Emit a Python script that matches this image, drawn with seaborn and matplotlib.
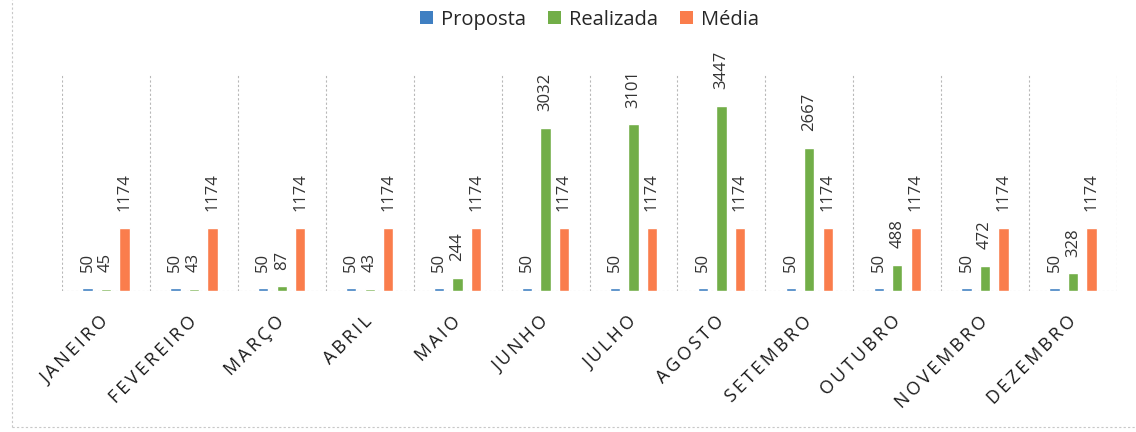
import matplotlib.pyplot as plt
import pandas as pd
import seaborn as sns
from matplotlib.lines import Line2D
from matplotlib.patches import Patch

# dados do gráfico
meses = ['JANEIRO', 'FEVEREIRO', 'MARÇO', 'ABRIL', 'MAIO', 'JUNHO',
         'JULHO', 'AGOSTO', 'SETEMBRO', 'OUTUBRO', 'NOVEMBRO', 'DEZEMBRO']
series = ['Proposta', 'Realizada', 'Média']
proposta = [50, 50, 50, 50, 50, 50, 50, 50, 50, 50, 50, 50]
realizada = [45, 43, 87, 43, 244, 3032, 3101, 3447, 2667, 488, 472, 328]
media = [1174, 1174, 1174, 1174, 1174, 1174, 1174, 1174, 1174, 1174, 1174, 1174]

df = pd.DataFrame({
    'mes': meses * 3,
    'serie': [s for s in series for _ in meses],
    'valor': proposta + realizada + media,
})

sns.set_theme(style='white')
plt.rcParams['font.family'] = ['Open Sans', 'DejaVu Sans']

fig = plt.figure(figsize=(11.36, 4.32), dpi=100)
ax = fig.add_axes([62 / 1136, 1 - 291 / 432, (1117 - 62) / 1136, (291 - 75) / 432])

palette = {'Proposta': '#3F7FC2', 'Realizada': '#72AE48', 'Média': '#FA7D4C'}

sns.barplot(data=df, x='mes', y='valor', hue='serie', order=meses,
            hue_order=series, palette=palette, width=0.63, gap=0.44,
            saturation=1, legend=False, ax=ax)

# rótulos de valor verticais
for cont in ax.containers:
    ax.bar_label(cont, rotation=90, padding=12, fontsize=12, color='#333333')

ax.set_ylim(0, 4015)
ax.set_xlim(-0.5, len(meses) - 0.5)
ax.set_yticks([])
ax.set_xlabel('')
ax.set_ylabel('')
for s in ax.spines.values():
    s.set_visible(False)

# linhas verticais entre categorias
for i in range(len(meses) + 1):
    ax.axvline(i - 0.5, color='#b8b8b8', lw=0.8, ls=(0, (2, 2)), zorder=0)
ax.axhline(0, color='#c0c0c0', lw=0.8, ls=(0, (2, 2)), zorder=0)

ax.set_xticks(range(len(meses)))
ax.set_xticklabels(['\u2009'.join(m) for m in meses], rotation=45,
                   ha='right', va='center', rotation_mode='anchor',
                   fontsize=13, color='#1a1a1a')
ax.tick_params(axis='x', length=0, pad=20)

handles = [Patch(facecolor=palette[s], edgecolor='none', label=s) for s in series]
ax.legend(handles=handles, loc='center', bbox_to_anchor=(0.5, 1.255), ncol=3,
          frameon=False, fontsize=14.5, handlelength=0.65, handleheight=0.6,
          handletextpad=0.4, columnspacing=1.1, borderaxespad=0)

# borda pontilhada da área do gráfico
fig.add_artist(Line2D([12 / 1136, 12 / 1136], [5 / 432, 1], color='#c8c8c8',
                      lw=0.8, ls=(0, (2, 2))))
fig.add_artist(Line2D([12 / 1136, 1], [5 / 432, 5 / 432], color='#c8c8c8',
                      lw=0.8, ls=(0, (2, 2))))

plt.savefig('out.png', dpi=100)
plt.close()
